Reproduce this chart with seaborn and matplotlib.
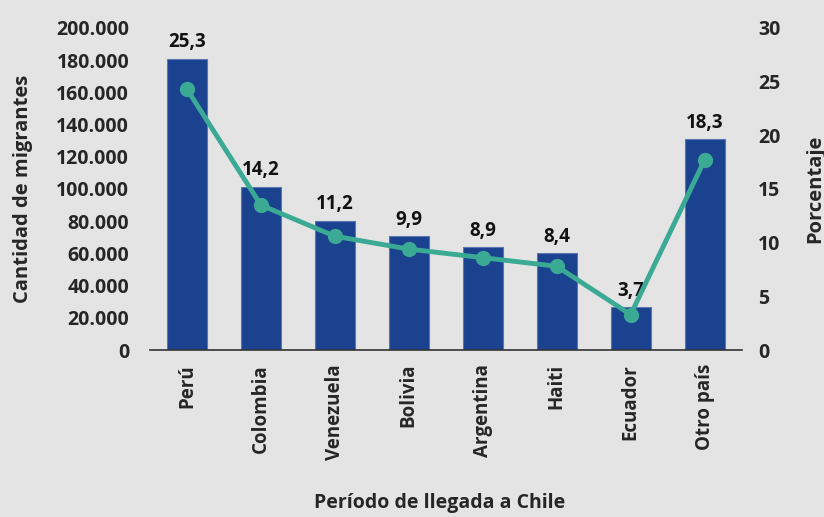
import numpy as np
import pandas as pd
import seaborn as sns
import matplotlib.pyplot as plt
from matplotlib.ticker import FuncFormatter

paises = ['Perú', 'Colombia', 'Venezuela', 'Bolivia', 'Argentina', 'Haiti', 'Ecuador', 'Otro país']
migrantes = [181000, 101500, 80300, 70700, 63700, 60100, 26500, 131000]
etiquetas = ['25,3', '14,2', '11,2', '9,9', '8,9', '8,4', '3,7', '18,3']
porcentaje_linea = [24.3, 13.5, 10.6, 9.4, 8.6, 7.8, 3.3, 17.7]

bg = '#e4e4e4'
bar_color = '#1a428f'
line_color = '#3aaa94'

sns.set_theme(style='white')
plt.rcParams['font.family'] = ['Open Sans', 'DejaVu Sans']
plt.rcParams['font.weight'] = 'bold'

df = pd.DataFrame({'Pais': paises, 'Migrantes': migrantes, 'Pct': porcentaje_linea})

fig = plt.figure(figsize=(8.24, 5.17), dpi=100, facecolor=bg)
ax = fig.add_axes([0.182, 0.323, 0.718, 0.623])
ax.set_facecolor(bg)

sns.barplot(data=df, x='Pais', y='Migrantes', color=bar_color, width=0.54,
            saturation=1, edgecolor='#5a78b0', linewidth=0.8, ax=ax)
ax.set_ylim(0, 200000)
ax.set_xlim(-0.5, 7.5)
ax.set_yticks(np.arange(0, 200001, 20000))
ax.yaxis.set_major_formatter(FuncFormatter(lambda v, p: f'{int(v):,}'.replace(',', '.')))
ax.tick_params(axis='y', length=0, labelsize=14, pad=15)
ax.tick_params(axis='x', length=0, labelsize=13.5, pad=10)
for lab in ax.get_xticklabels():
    lab.set_rotation(90)
    lab.set_fontweight('bold')
for lab in ax.get_yticklabels():
    lab.set_fontweight('bold')

# etiquetas de porcentaje sobre cada barra
for i, (v, t) in enumerate(zip(migrantes, etiquetas)):
    ax.text(i, v + 4000, t, ha='center', va='bottom', fontsize=13.5,
            fontweight='bold', color='#111111')

ax.set_ylabel('Cantidad de migrantes', fontsize=14.5, fontweight='bold', va='center')
ax.set_xlabel('Período de llegada a Chile', fontsize=14, fontweight='bold', va='center')
ax.yaxis.set_label_coords(-0.215, 0.5)
ax.xaxis.set_label_coords(0.49, -0.475)

for s in ['top', 'left', 'right']:
    ax.spines[s].set_visible(False)
ax.spines['bottom'].set_color('#333333')
ax.spines['bottom'].set_linewidth(1.2)

ax2 = ax.twinx()
sns.lineplot(data=df, x='Pais', y='Pct', color=line_color, linewidth=3.5,
             marker='o', markersize=11, markeredgewidth=0, ax=ax2, sort=False)
ax2.set_ylim(0, 30)
ax2.set_yticks(np.arange(0, 31, 5))
ax2.tick_params(axis='y', length=0, labelsize=14, pad=12)
for lab in ax2.get_yticklabels():
    lab.set_fontweight('bold')
ax2.set_ylabel('Porcentaje', fontsize=14.5, fontweight='bold', va='center')
ax2.yaxis.set_label_coords(1.125, 0.5)
for s in ['top', 'left', 'right', 'bottom']:
    ax2.spines[s].set_visible(False)

fig.savefig('out.png', dpi=100, facecolor=bg)
